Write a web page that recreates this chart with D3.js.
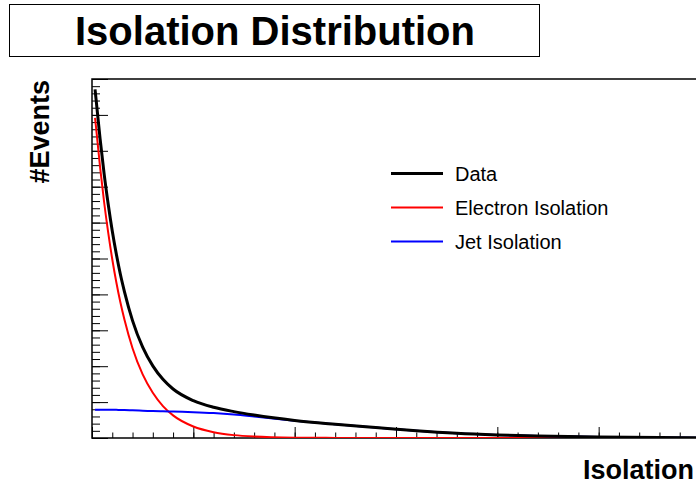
<!DOCTYPE html>
<html>
<head>
<meta charset="utf-8">
<script src="https://cdn.jsdelivr.net/npm/d3@7"></script>
<style>
  body { margin: 0; background: #fff; }
  svg { display: block; font-family: "Liberation Sans", Arial, sans-serif; }
</style>
</head>
<body>
<div id="chart"></div>
<script>
// values (no tick labels, so arbitrary units)
var isolation = [0.015, 0.02, 0.04, 0.06, 0.08, 0.10, 0.12, 0.14, 0.16, 0.20, 0.25, 0.30, 0.35, 0.40,
                 0.50, 0.60, 0.70, 0.80, 1.00, 1.20, 1.40, 1.60, 1.80, 2.00, 2.20, 2.50, 2.80, 3.00];
var electronIso = [89.2, 86.5, 75.4, 65.6, 57.2, 49.8, 43.4, 37.8, 33.0, 25.0, 17.7, 12.6, 8.9, 6.3,
                   3.2, 1.6, 0.8, 0.4, 0.1, 0.03, 0, 0, 0, 0, 0, 0, 0, 0];
var jetIso = [7.9, 7.9, 7.9, 7.9, 7.9, 7.85, 7.85, 7.8, 7.8, 7.7, 7.6, 7.5, 7.45, 7.35,
              7.2, 6.95, 6.55, 6.0, 4.8, 3.8, 2.9, 2.0, 1.3, 0.85, 0.55, 0.28, 0.13, 0.08];
var dataIso = [97.1, 94.4, 83.3, 73.5, 65.1, 57.65, 51.25, 45.6, 40.8, 32.7, 25.3, 20.1, 16.35, 13.65,
               10.4, 8.55, 7.35, 6.4, 4.9, 3.83, 2.9, 2.0, 1.3, 0.85, 0.55, 0.28, 0.13, 0.08];

var legendNames = ["Data", "Electron Isolation", "Jet Isolation"];
var legendColors = ["#000000", "#ff0000", "#0000ff"];
var legendWidths = [3, 2, 2];

var W = 696, H = 484;
var frame = {left: 92, right: 700, top: 79, bottom: 438};

var svg = d3.select("#chart").append("svg")
  .attr("width", W)
  .attr("height", H);

// title box
svg.append("rect")
  .attr("x", 9.5).attr("y", 4.5)
  .attr("width", 530).attr("height", 52)
  .attr("fill", "#fff").attr("stroke", "#000").attr("stroke-width", 1);
svg.append("text")
  .attr("x", 275).attr("y", 45)
  .attr("text-anchor", "middle")
  .style("font-size", "40px").style("font-weight", "bold")
  .text("Isolation Distribution");

var x = d3.scaleLinear().domain([0, 3]).range([frame.left, frame.right]);
var y = d3.scaleLinear().domain([0, 100]).range([frame.bottom, frame.top]);

svg.append("defs").append("clipPath").attr("id", "clip")
  .append("rect")
  .attr("x", frame.left).attr("y", frame.top)
  .attr("width", frame.right - frame.left).attr("height", frame.bottom - frame.top);

// frame
svg.append("rect")
  .attr("x", frame.left).attr("y", frame.top)
  .attr("width", frame.right - frame.left).attr("height", frame.bottom - frame.top)
  .attr("fill", "none").attr("stroke", "#000").attr("stroke-width", 1.5);

// axes, ticks pointing inside, no labels
function styleAxis(g) {
  g.select(".domain").remove();
  g.selectAll(".tick line").attr("stroke", "#000").attr("stroke-width", 1);
}
svg.append("g")
  .attr("transform", "translate(0," + frame.bottom + ")")
  .call(d3.axisBottom(x).tickValues(d3.range(0, 3.01, 0.5)).tickSize(-11).tickFormat(""))
  .call(styleAxis);
svg.append("g")
  .attr("transform", "translate(0," + frame.bottom + ")")
  .call(d3.axisBottom(x).tickValues(d3.range(0.1, 3, 0.1)).tickSize(-5.5).tickFormat(""))
  .call(styleAxis);
svg.append("g")
  .attr("transform", "translate(" + frame.left + ",0)")
  .call(d3.axisLeft(y).tickValues(d3.range(0, 101, 10)).tickSize(-16).tickFormat(""))
  .call(styleAxis);
svg.append("g")
  .attr("transform", "translate(" + frame.left + ",0)")
  .call(d3.axisLeft(y).tickValues(d3.range(2, 100, 2)).tickSize(-8).tickFormat(""))
  .call(styleAxis);

// curves
var line = d3.line()
  .x(function (d) { return x(d[0]); })
  .y(function (d) { return y(d[1]); })
  .curve(d3.curveMonotoneX);

var plot = svg.append("g").attr("clip-path", "url(#clip)");
[electronIso, jetIso, dataIso].forEach(function (vals, i) {
  var idx = [1, 2, 0][i];
  plot.append("path")
    .datum(isolation.map(function (v, j) { return [v, vals[j]]; }))
    .attr("fill", "none")
    .attr("stroke", legendColors[idx])
    .attr("stroke-width", legendWidths[idx])
    .attr("d", line);
});

// legend
var leg = svg.append("g");
legendNames.forEach(function (name, i) {
  var ly = 173.5 + i * 34;
  leg.append("line")
    .attr("x1", 391).attr("x2", 443)
    .attr("y1", ly).attr("y2", ly)
    .attr("stroke", legendColors[i]).attr("stroke-width", legendWidths[i]);
  leg.append("text")
    .attr("x", 455).attr("y", ly + 7)
    .style("font-size", "20px")
    .text(name);
});

// axis titles
svg.append("text")
  .attr("x", 694).attr("y", 479)
  .attr("text-anchor", "end")
  .style("font-size", "27px").style("font-weight", "bold")
  .text("Isolation");
svg.append("text")
  .attr("transform", "translate(49,80) rotate(-90)")
  .attr("text-anchor", "end")
  .style("font-size", "27px").style("font-weight", "bold")
  .text("#Events");
</script>
</body>
</html>
